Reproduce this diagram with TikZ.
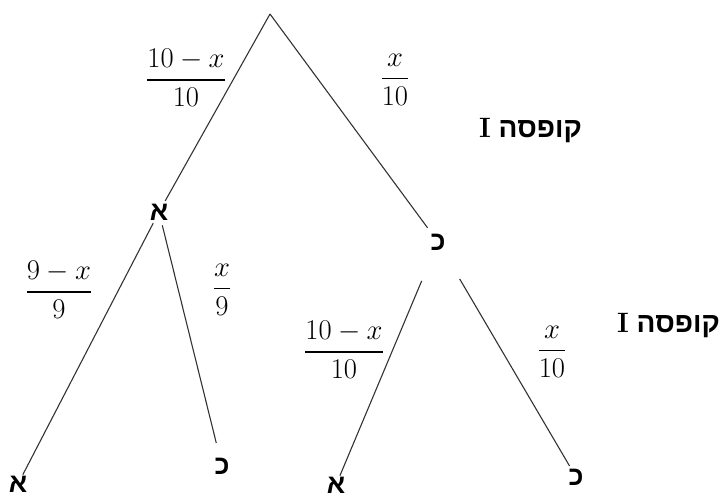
\documentclass[tikz,border=0pt]{standalone}
\usepackage{fontspec}
\usepackage{amsmath}
\newfontfamily\hebfont[Script=Hebrew]{Liberation Sans}
\TeXXeTstate=1
\usetikzlibrary{positioning}

\begin{document}
\begin{tikzpicture}[x=1pt, y=-1pt,
        leaf/.style={font=\hebfont\bfseries\fontsize{27}{29}\selectfont, inner sep=1pt},
        branch/.style={draw=black!80, line width=1.1pt},
        prob/.style={font=\Huge, inner sep=0pt},
        boxlabel/.style={font=\hebfont\bfseries\fontsize{28}{30}\selectfont, inner sep=0pt, anchor=west}
    ]
        \useasboundingbox (0,0) rectangle (725,498);

        % Root and letters
        \coordinate (root) at (270,14);
        \node[leaf] (a1) at (159,212) {א};
        \node[leaf] (k1) at (438,242) {כ};
        \node[leaf] (a2) at (18,484) {א};
        \node[leaf] (k2) at (222,466) {כ};
        \node[leaf] (a3) at (336,485) {א};
        \node[leaf] (k3) at (576,477) {כ};

        % Box labels
        \node[boxlabel] (box1) at (479,131) {\beginR קופסה {\rmfamily I}\endR};
        \node[boxlabel] (box2) at (617,326) {\beginR קופסה {\rmfamily I}\endR};

        % Branches
        \draw[branch, shorten >=2pt] (root) -- (a1);
        \draw[branch, shorten >=6pt] (root) -- (k1);
        \draw[branch, shorten <=2pt] (a1) -- (a2);
        \draw[branch, shorten <=4pt, shorten >=14pt] (a1) -- (k2);
        \draw[branch, shorten <=32pt, shorten >=0pt] (k1) -- (a3);
        \draw[branch, shorten <=32pt, shorten >=2pt] (k1) -- (k3);

        % Probabilities
        \node[prob] (p1) at (186,78) {\scalebox{1.15}{$\dfrac{10-x}{10}$}};
        \node[prob] (p2) at (395,80) {\scalebox{1.15}{$\dfrac{x}{10}$}};
        \node[prob] (p3) at (59,290) {\scalebox{1.15}{$\dfrac{9-x}{9}$}};
        \node[prob] (p4) at (222,290) {\scalebox{1.15}{$\dfrac{x}{9}$}};
        \node[prob] (p5) at (344,350) {\scalebox{1.15}{$\dfrac{10-x}{10}$}};
        \node[prob] (p6) at (552,352) {\scalebox{1.15}{$\dfrac{x}{10}$}};
    \end{tikzpicture}
\end{document}
